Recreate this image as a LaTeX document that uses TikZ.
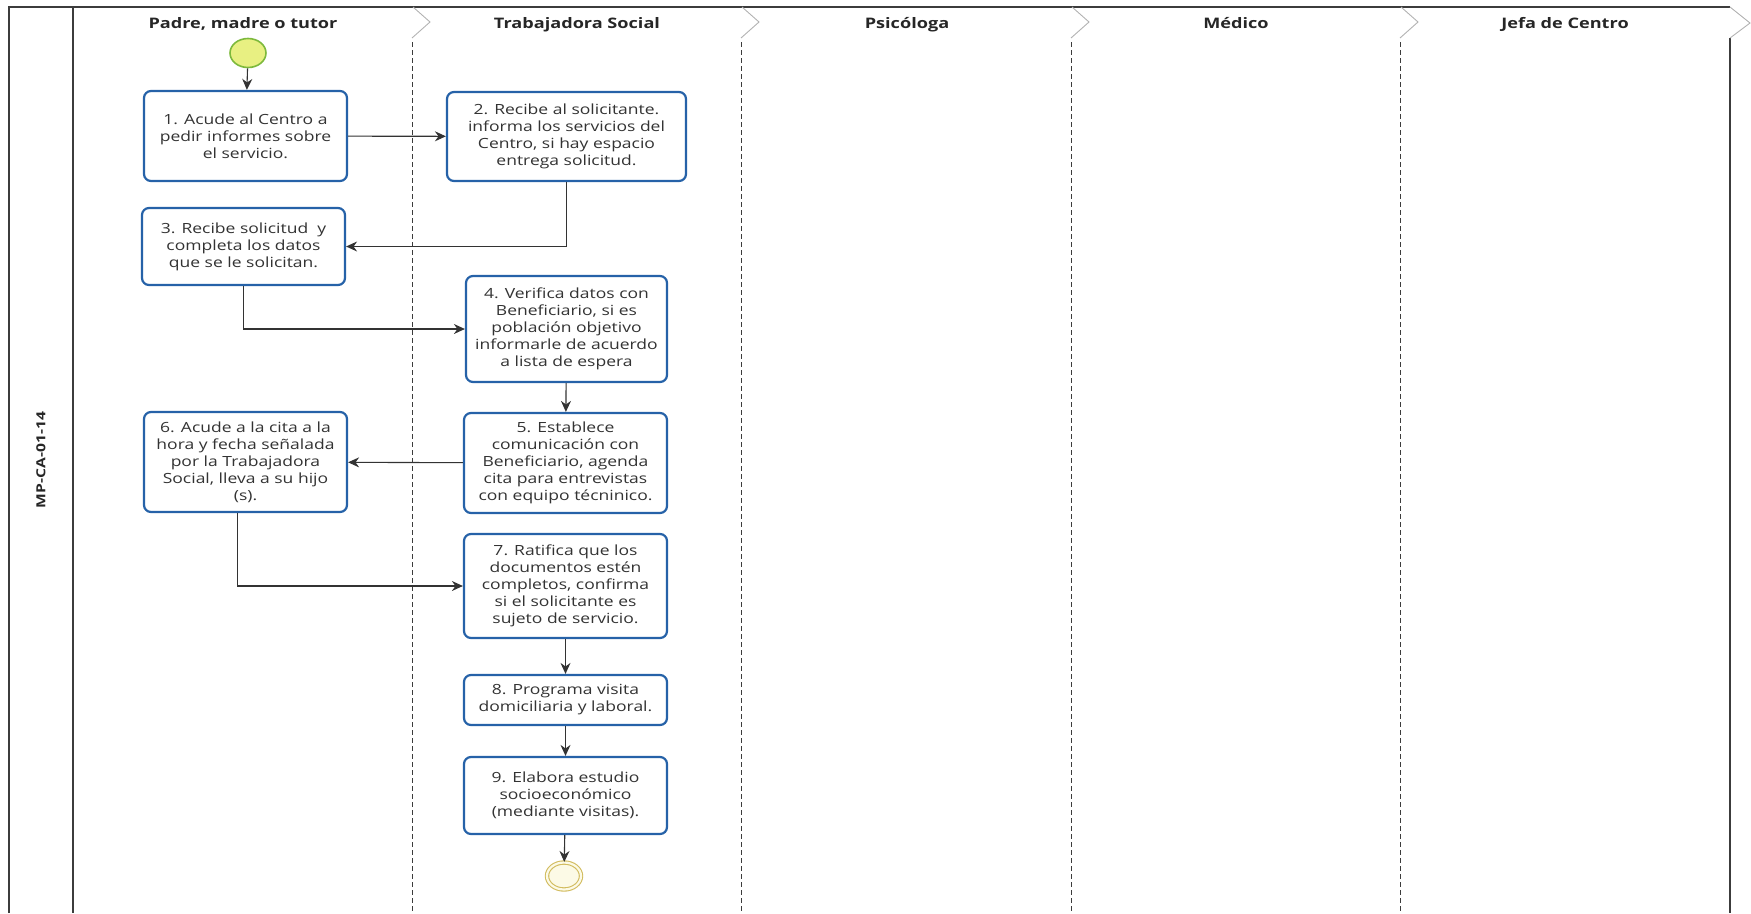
\documentclass[tikz,border=0pt]{standalone}
\usepackage{fontspec}
\setmainfont{Open Sans}[FakeStretch=1.25]
\usetikzlibrary{arrows.meta,shapes.geometric}
\definecolor{actvblue}{RGB}{38,98,168}
\definecolor{startfill}{RGB}{232,240,130}
\definecolor{startline}{RGB}{125,185,60}
\definecolor{endline}{RGB}{210,188,95}
\definecolor{endfill}{RGB}{252,250,230}
\definecolor{lanegray}{RGB}{60,60,60}
\tikzset{
  actv/.style={shape=rectangle,rounded corners=7pt,draw=actvblue,line width=2.2pt,fill=white,
    align=center,inner sep=0pt,text=black!80,font=\fontsize{14}{17}\selectfont},
  flow/.style={draw=black!80,line width=1.1pt,-{Stealth[length=11pt,width=10pt]}},
  lanehead/.style={anchor=base,font=\bfseries\fontsize{14.5}{16}\selectfont,text=black!85},
  laneline/.style={draw=lanegray,line width=0.9pt,dash pattern=on 5pt off 3pt},
  chevron/.style={draw=black!30,line width=0.9pt}
}
\begin{document}
\begin{tikzpicture}[x=1pt,y=-1pt]
 \useasboundingbox (0,0) rectangle (1751,913);
 % pool and lanes
 \draw[lanegray,line width=1.2pt] (9,913) -- (9,7) -- (1730,7);
 \draw[lanegray,line width=1.2pt] (73,7) -- (73,913);
 \draw[lanegray,line width=1.2pt] (1730,38) -- (1730,913);
 \draw[chevron] (1730,7) -- (1750,23) -- (1730,38);
 \foreach \x in {412,741,1071,1400} {
  \draw[chevron] (\x+1,7) -- (\x+18,22) -- (\x,38);
  \draw[laneline] (\x,42) -- (\x,913);
 }
 \node (pool) at (41,460) [rotate=90,font=\bfseries\fontsize{12.5}{15}\selectfont,text=black!85] {MP-CA-01-14};
 \node (lane 1) at (243,28) [lanehead] {Padre, madre o tutor};
 \node (lane 2) at (577,28) [lanehead] {Trabajadora Social};
 \node (lane 3) at (907,28) [lanehead] {Psicóloga};
 \node (lane 4) at (1236,28) [lanehead] {Médico};
 \node (lane 5) at (1565,28) [lanehead] {Jefa de Centro};
 % events
 \node (start) at (248,53) [shape=ellipse,draw=startline,line width=1.6pt,fill=startfill,minimum width=36pt,minimum height=29pt,inner sep=0pt] {};
 \node (end) at (564,876) [shape=ellipse,draw=endline,line width=1.1pt,double=endfill,double distance=2.2pt,fill=endfill,minimum width=34pt,minimum height=27pt,inner sep=0pt] {};
 % activities
 \node (actv 1) at (245.5,136) [actv,minimum width=203pt,minimum height=90pt] {1. Acude al Centro a\\pedir informes sobre\\el servicio.};
 \node (actv 2) at (566.5,136.5) [actv,minimum width=239pt,minimum height=89pt] {2. Recibe al solicitante.\\informa los servicios del\\Centro, si hay espacio\\entrega solicitud.};
 \node (actv 3) at (243.5,246.5) [actv,minimum width=203pt,minimum height=77pt] {3. Recibe solicitud\ \ y\\completa los datos\\que se le solicitan.};
 \node (actv 4) at (566.5,329) [actv,minimum width=201pt,minimum height=106pt] {4. Verifica datos con\\Beneficiario, si es\\población objetivo\\informarle de acuerdo\\a lista de espera};
 \node (actv 5) at (565.5,463) [actv,minimum width=203pt,minimum height=100pt] {5. Establece\\comunicación con\\Beneficiario, agenda\\cita para entrevistas\\con equipo técninico.};
 \node (actv 6) at (245.5,462) [actv,minimum width=203pt,minimum height=100pt] {6. Acude a la cita a la\\hora y fecha señalada\\por la Trabajadora\\Social, lleva a su hijo\\(s).};
 \node (actv 7) at (565.5,586) [actv,minimum width=203pt,minimum height=104pt] {7. Ratifica que los\\documentos estén\\completos, confirma\\si el solicitante es\\sujeto de servicio.};
 \node (actv 8) at (565.5,700) [actv,minimum width=203pt,minimum height=50pt] {8. Programa visita\\domiciliaria y laboral.};
 \node (actv 9) at (565.5,795.5) [actv,minimum width=203pt,minimum height=77pt] {9. Elabora estudio\\socioeconómico\\(mediante visitas).};
 % flows
 \draw[flow] (start) -- (actv 1);
 \draw[flow] (actv 1) -- (actv 2);
 \draw[flow] (actv 2.south) |- (actv 3.east);
 \draw[flow] (actv 3.south) |- (actv 4.west);
 \draw[flow] (actv 4) -- (actv 5);
 \draw[flow] (actv 5) -- (actv 6);
 \draw[flow] ([xshift=-8pt]actv 6.south) |- (actv 7.west);
 \draw[flow] (actv 7) -- (actv 8);
 \draw[flow] (actv 8) -- (actv 9);
 \draw[flow] (actv 9) -- (end);
\end{tikzpicture}
\end{document}
